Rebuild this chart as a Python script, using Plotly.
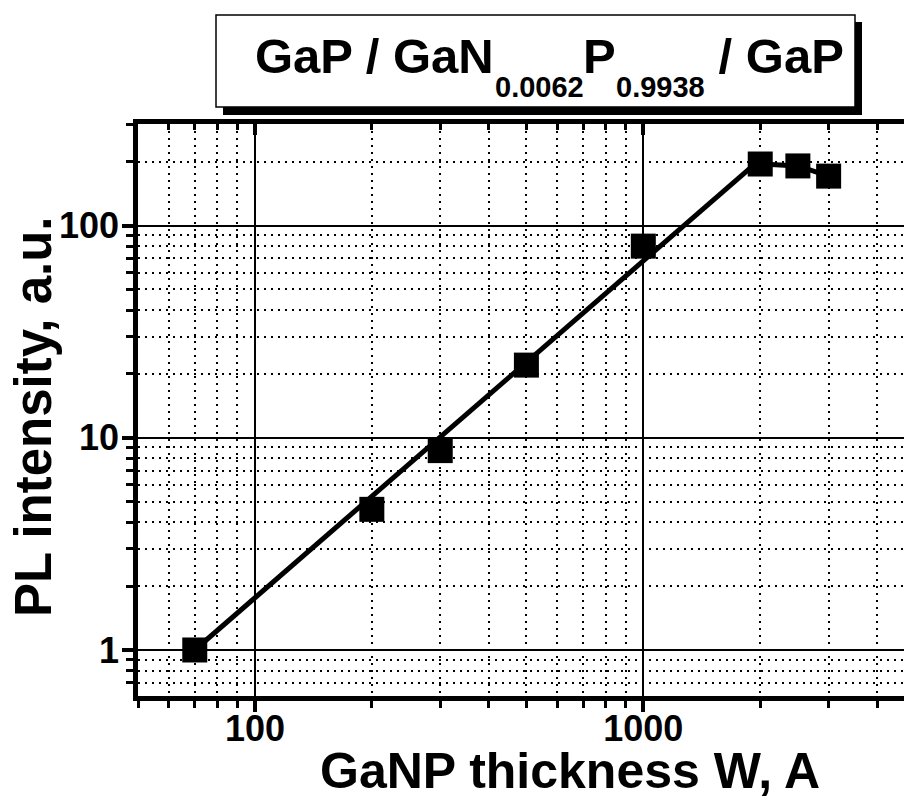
import math
import plotly.graph_objects as go

# PL intensity vs. GaNP layer thickness (log-log)
thickness_w = [70, 200, 300, 500, 1000, 2000, 2500, 3000]
pl_intensity = [1.0, 4.6, 8.7, 22, 80, 195, 191, 171]

# power-law fit drawn through the growth region
fit_w = [70, 2000]
fit_i = [1.0, 205]

# saturation region, joined point to point
sat_w = thickness_w[5:]
sat_i = pl_intensity[5:]

x_limits = [50, 4690]
y_limits = [0.607, 301]

x_title = "GaNP thickness W, A"
y_title = "PL intensity, a.u."
title_parts = [("GaP / GaN", "main"), ("0.0062", "sub"), ("P", "main"),
               ("0.9938", "sub"), (" / GaP", "main")]

FONT = "Liberation Sans, Arial, Helvetica, sans-serif"
W, H = 904, 798
L, R, T, B = 138, 0, 124, 102
PW, PH = W - L - R, H - T - B


def px(x):
    return (x - L) / PW


def py(y):
    return (H - B - y) / PH


# Arial-bold advance widths (per 1000 em) for laying out the title pieces
ADV = {"G": 778, "a": 556, "P": 667, " ": 278, "/": 278, "N": 722, "0": 556,
       ".": 278, "6": 556, "2": 556, "9": 556, "3": 556, "8": 556}


def text_width(s, size):
    return sum(ADV[c] for c in s) / 1000 * size


fig = go.Figure()

fig.add_trace(go.Scatter(x=fit_w, y=fit_i, mode="lines",
                         line=dict(color="black", width=5),
                         hoverinfo="skip", showlegend=False))
fig.add_trace(go.Scatter(x=sat_w, y=sat_i, mode="lines",
                         line=dict(color="black", width=5),
                         hoverinfo="skip", showlegend=False))
fig.add_trace(go.Scatter(x=thickness_w, y=pl_intensity, mode="markers",
                         marker=dict(symbol="square", size=25, color="black",
                                     line=dict(width=0)),
                         showlegend=False))
# carrier for the mirrored top axis
fig.add_trace(go.Scatter(x=[thickness_w[0]], y=[pl_intensity[0]], xaxis="x2",
                         mode="markers", marker=dict(opacity=0),
                         hoverinfo="skip", showlegend=False))

tickfont = dict(family=FONT, size=36, color="black", weight="bold")

common = dict(type="log", showline=True, linecolor="black", linewidth=4.5,
              tickcolor="black", tickwidth=4, dtick=1, zeroline=False,
              exponentformat="none")

fig.update_layout(
    width=W, height=H,
    margin=dict(l=L, r=R, t=T, b=B, pad=0),
    paper_bgcolor="white", plot_bgcolor="white",
    showlegend=False,
    xaxis=dict(**common,
               range=[math.log10(x_limits[0]), math.log10(x_limits[1])],
               ticks="outside", ticklen=11, tickfont=tickfont,
               ticklabelstandoff=-14,
               showgrid=True, gridcolor="black", gridwidth=2,
               minor=dict(dtick="D1", ticks="outside", ticklen=7, tickwidth=3,
                          tickcolor="black", showgrid=True, gridcolor="black",
                          gridwidth=1.5, griddash="2px,5px")),
    xaxis2=dict(**common, overlaying="x", side="top", anchor="y",
                range=[math.log10(x_limits[0]), math.log10(x_limits[1])],
                ticks="inside", ticklen=11, showticklabels=False,
                showgrid=False,
                minor=dict(dtick="D1", ticks="inside", ticklen=6, tickwidth=3,
                           tickcolor="black", showgrid=False)),
    yaxis=dict(**common,
               range=[math.log10(y_limits[0]), math.log10(y_limits[1])],
               ticks="outside", ticklen=11, tickfont=tickfont,
               ticklabelstandoff=-4,
               showgrid=True, gridcolor="black", gridwidth=2,
               minor=dict(dtick="D1", ticks="outside", ticklen=7, tickwidth=3,
                          tickcolor="black", showgrid=True, gridcolor="black",
                          gridwidth=1.5, griddash="2px,5px")),
)

# boxed title with drop shadow
fig.add_shape(type="rect", xref="paper", yref="paper",
              x0=px(223), x1=px(862), y0=py(115), y1=py(22),
              fillcolor="black", line=dict(width=0), layer="above")
fig.add_shape(type="rect", xref="paper", yref="paper",
              x0=px(216), x1=px(855), y0=py(107), y1=py(15),
              fillcolor="white", line=dict(color="black", width=1.5),
              layer="above")

sizes = {"main": 49, "sub": 29}
centers = {"main": 56, "sub": 87}
xpos = 253
for text, kind in title_parts:
    fig.add_annotation(text=text, xref="paper", yref="paper",
                       x=px(xpos), y=py(centers[kind]),
                       xanchor="left", yanchor="middle", showarrow=False,
                       font=dict(family=FONT, size=sizes[kind], color="black",
                                 weight="bold"))
    xpos += text_width(text, sizes[kind])

# axis titles
fig.add_annotation(text=x_title, xref="paper", yref="paper",
                   x=px(570), y=py(771), xanchor="center", yanchor="middle",
                   showarrow=False,
                   font=dict(family=FONT, size=50, color="black", weight="bold"))
fig.add_annotation(text=y_title, xref="paper", yref="paper",
                   x=px(33), y=py(417), xanchor="center", yanchor="middle",
                   textangle=-90, showarrow=False,
                   font=dict(family=FONT, size=51, color="black", weight="bold"))

fig.write_html("out.html")
